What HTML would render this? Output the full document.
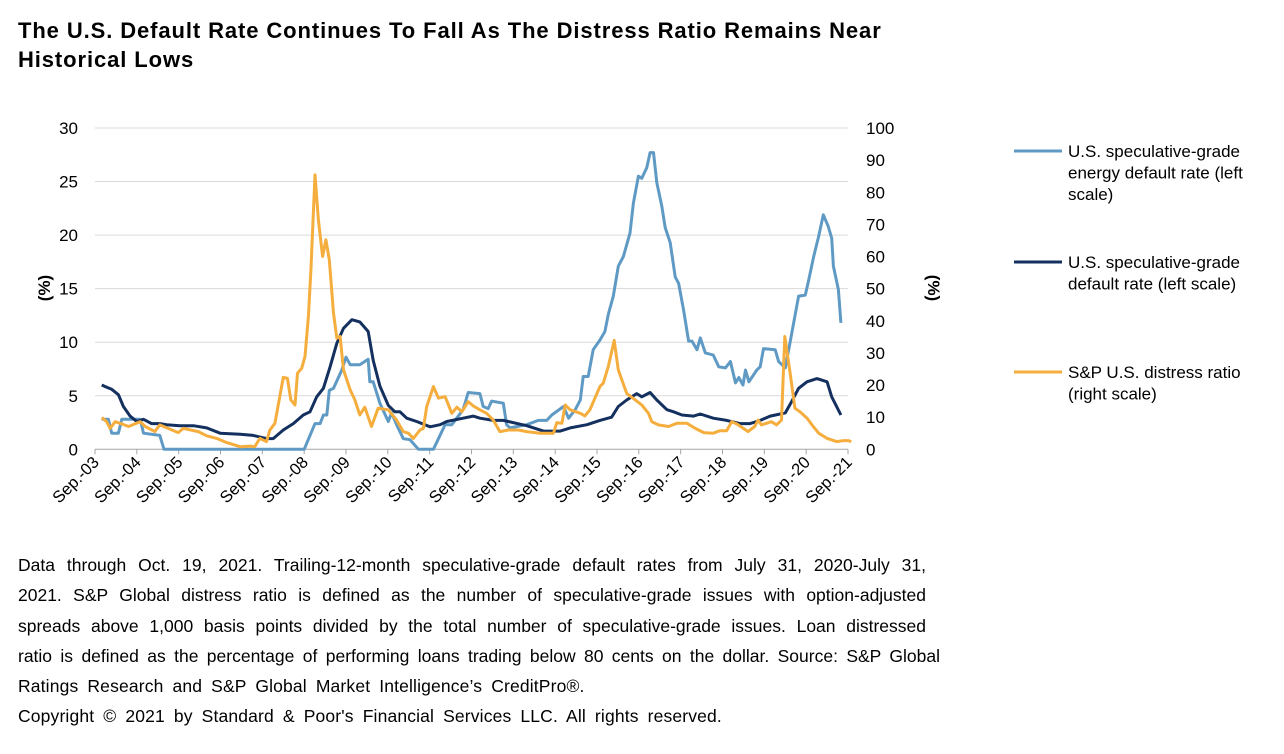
<!DOCTYPE html>
<html><head><meta charset="utf-8">
<style>
body{margin:0;background:#fff;width:1284px;height:754px;overflow:hidden;font-family:"Liberation Sans",Arial,sans-serif;color:#000}
.title{position:absolute;left:18px;top:16px;font-size:22px;font-weight:bold;line-height:29px;width:900px;letter-spacing:0.9px}
.note{position:absolute;left:18px;top:550px;width:918px;font-size:17.5px;line-height:30.3px}
.j{text-align:justify;text-align-last:justify;white-space:nowrap}
.w{word-spacing:4px;letter-spacing:0.15px;white-space:nowrap}
svg{position:absolute;left:0;top:0}
text{font-family:"Liberation Sans",Arial,sans-serif}
</style></head><body>
<div class="title">The U.S. Default Rate Continues To Fall As The Distress Ratio Remains Near<br>Historical Lows</div>
<svg id="c" width="1284" height="754"></svg>
<div class="note">
<div class="j" style="width:908px">Data through Oct. 19, 2021. Trailing-12-month speculative-grade default rates from July 31, 2020-July 31,</div>
<div class="j" style="width:908px">2021. S&amp;P Global distress ratio is defined as the number of speculative-grade issues with option-adjusted</div>
<div class="j" style="width:908px">spreads above 1,000 basis points divided by the total number of speculative-grade issues. Loan distressed</div>
<div class="j" style="width:922px">ratio is defined as the percentage of performing loans trading below 80 cents on the dollar. Source: S&amp;P Global</div>
<div class="w">Ratings Research and S&amp;P Global Market Intelligence’s CreditPro®.</div>
<div class="w">Copyright © 2021 by Standard &amp; Poor's Financial Services LLC. All rights reserved.</div>
</div>
<script>
const xLabels=["Sep.-03","Sep.-04","Sep.-05","Sep.-06","Sep.-07","Sep.-08","Sep.-09","Sep.-10","Sep.-11","Sep.-12","Sep.-13","Sep.-14","Sep.-15","Sep.-16","Sep.-17","Sep.-18","Sep.-19","Sep.-20","Sep.-21"];
const leftTicks=[0,5,10,15,20,25,30];
const rightTicks=[0,10,20,30,40,50,60,70,80,90,100];
// time in years since Sep-03
const energyT=[.16,.32,.40,.56,.64,1.08,1.16,1.55,1.65,5.0,5.26,5.38,5.46,5.54,5.6,5.7,5.9,6.0,6.1,6.33,6.53,6.57,6.65,6.81,7.01,7.09,7.21,7.37,7.53,7.73,8.09,8.37,8.53,8.8,8.92,9.2,9.28,9.4,9.48,9.76,9.84,9.92,10.32,10.6,10.8,10.92,11.2,11.32,11.48,11.6,11.67,11.79,11.91,12.07,12.19,12.27,12.39,12.51,12.63,12.79,12.87,12.99,13.07,13.19,13.27,13.35,13.43,13.55,13.63,13.75,13.87,13.95,14.07,14.19,14.27,14.39,14.47,14.59,14.78,14.91,15.07,15.19,15.31,15.39,15.49,15.55,15.63,15.82,15.9,15.98,16.26,16.34,16.5,16.62,16.82,16.98,17.06,17.18,17.3,17.41,17.53,17.61,17.65,17.77,17.83];
const energyV=[2.8,2.8,1.5,1.5,2.8,2.8,1.5,1.3,0,0,2.4,2.4,3.2,3.2,5.5,5.7,7.4,8.6,7.9,7.9,8.4,6.3,6.3,4.3,2.6,3.4,2.3,1.0,0.9,0,0,2.3,2.3,3.7,5.3,5.2,4.0,3.8,4.5,4.3,2.3,2.0,2.3,2.7,2.7,3.2,4.0,2.9,3.7,4.6,6.8,6.8,9.3,10.2,11.0,12.6,14.3,17.1,18.0,20.2,23.0,25.5,25.3,26.3,27.7,27.7,24.9,22.7,20.7,19.3,16.1,15.5,13.0,10.1,10.1,9.3,10.4,9.0,8.8,7.7,7.6,8.2,6.2,6.7,6.0,7.4,6.3,7.4,7.7,9.4,9.3,8.2,7.6,10.1,14.3,14.4,15.8,18.0,19.9,21.9,20.8,19.7,17.1,14.9,11.8];
const defaultT=[.16,.28,.4,.56,.68,.84,1.0,1.16,1.35,1.55,1.71,2.03,2.35,2.67,2.99,3.47,3.78,4.1,4.26,4.5,4.74,4.98,5.14,5.3,5.46,5.62,5.78,5.94,6.14,6.33,6.53,6.65,6.81,7.01,7.17,7.29,7.45,7.69,8.01,8.25,8.41,8.8,9.04,9.2,9.52,9.76,10.32,10.72,11.12,11.36,11.76,12.07,12.35,12.51,12.71,12.95,13.07,13.27,13.43,13.67,13.83,14.03,14.31,14.47,14.78,15.1,15.42,15.66,15.9,16.14,16.5,16.66,16.82,17.02,17.26,17.5,17.61,17.83];
const defaultV=[6.0,5.8,5.6,5.1,4.0,3.1,2.6,2.8,2.4,2.4,2.3,2.2,2.2,2.0,1.5,1.4,1.3,1.0,1.0,1.8,2.4,3.2,3.5,4.9,5.7,7.7,9.9,11.3,12.1,11.9,11.0,8.3,5.9,4.1,3.5,3.5,2.9,2.6,2.1,2.3,2.6,2.9,3.1,2.9,2.7,2.7,2.2,1.7,1.7,2.0,2.3,2.7,3.0,4.0,4.6,5.2,4.9,5.3,4.6,3.7,3.5,3.2,3.1,3.3,2.9,2.7,2.4,2.4,2.7,3.1,3.4,4.5,5.7,6.3,6.6,6.3,4.9,3.2];
const distressT=[.16,.28,.36,.48,.64,.8,1.08,1.2,1.43,1.55,1.75,1.99,2.11,2.47,2.67,2.91,3.15,3.47,3.71,3.82,3.94,4.1,4.18,4.3,4.5,4.6,4.68,4.78,4.84,4.94,5.02,5.1,5.16,5.26,5.34,5.44,5.52,5.6,5.7,5.78,5.86,5.94,6.1,6.21,6.33,6.45,6.61,6.77,7.01,7.21,7.37,7.49,7.61,7.77,7.85,7.93,8.09,8.21,8.37,8.53,8.65,8.77,8.92,9.04,9.2,9.36,9.52,9.68,9.88,10.12,10.32,10.64,10.96,11.04,11.16,11.24,11.36,11.6,11.71,11.83,11.95,12.07,12.15,12.27,12.41,12.51,12.71,12.91,13.07,13.23,13.31,13.47,13.71,13.91,14.15,14.35,14.55,14.78,14.94,15.1,15.22,15.34,15.5,15.61,15.77,15.85,15.93,16.17,16.29,16.41,16.49,16.61,16.73,16.85,17.02,17.14,17.3,17.5,17.73,17.89,18.0,18.08];
const distressV=[9.9,8.6,6.5,8.6,7.9,7.1,8.6,7.1,5.5,7.6,6.5,5.2,6.5,5.5,4.2,3.4,2.1,0.8,1.0,0.8,3.4,2.4,6.0,8.1,22.4,22.1,15.4,13.8,23.7,25.2,28.9,41.3,55.8,85.4,71.4,60,65.2,59,42.4,34.6,35.1,24.7,18.5,15.4,10.7,13.1,7.1,12.8,12.3,9.1,5.5,5.0,3.4,6.0,6.5,13.3,19.5,15.9,16.4,11.2,13.1,11.7,14.8,13.5,12.3,11.2,9.1,5.5,6.0,6.0,5.5,5.0,5.0,8.3,8.1,13.8,12.3,11.2,10.4,12.3,15.9,19.5,20.6,25.8,33.9,24.7,17.4,15.4,13.8,11.2,8.6,7.6,7.1,8.1,8.1,6.5,5.2,5.0,5.8,5.8,8.6,7.9,6.5,5.5,7.1,9.1,7.6,8.6,7.6,9.1,35.1,24.2,12.8,11.7,9.7,7.6,5.0,3.4,2.4,2.7,2.7,2.4];

const NS="http://www.w3.org/2000/svg";
const svg=document.getElementById('c');
const X0=95,X1=848,Y0=449.3,Y1=128;
const x=t=>X0+(X1-X0)*t/18;
const yL=v=>Y0-(Y0-Y1)*v/30;
const yR=v=>Y0-(Y0-Y1)*v/100;
function mk(tag,attrs,txt){const e=document.createElementNS(NS,tag);for(const k in attrs)e.setAttribute(k,attrs[k]);if(txt!=null)e.textContent=txt;svg.appendChild(e);return e;}
leftTicks.forEach(v=>{
  if(v>0){const g=mk('line',{x1:X0,x2:X1,y1:yL(v),y2:yL(v),stroke:'#d9d9d9','stroke-width':1});
  
  }
  const t=mk('text',{x:78,y:yL(v)+6,'text-anchor':'end','font-size':17},v);
  
  
});
rightTicks.forEach(v=>{
  const t=mk('text',{x:866,y:yR(v)+6,'font-size':17},v);
  
  
});
const ax=mk('line',{x1:X0,x2:X1,y1:Y0,y2:Y0,stroke:'#a6a6a6','stroke-width':1});


xLabels.forEach((l,i)=>{
  const tk=mk('line',{x1:x(i),x2:x(i),y1:Y0,y2:Y0+5,stroke:'#a6a6a6'});
  
  
  const t=mk('text',{x:x(i)+5,y:Y0+14,'text-anchor':'end','font-size':16.5,transform:`rotate(-45 ${x(i)+5} ${Y0+14})`},l);
  
  
});
function series(T,V,yf,color,name){
  const d=T.map((t,i)=>(i?'L':'M')+x(t).toFixed(1)+' '+yf(V[i]).toFixed(1)).join(' ');
  const p=mk('path',{d,fill:'none',stroke:color,'stroke-width':3,'stroke-linejoin':'round'});
  
  
}
series(energyT,energyV,yL,'#5f9ac5','energy-default-line');
series(defaultT,defaultV,yL,'#14305f','default-rate-line');
series(distressT,distressV,yR,'#f5ae3d','distress-ratio-line');
const la=mk('text',{x:0,y:0,'font-size':17,'font-weight':'bold',transform:'translate(50 288) rotate(-90)','text-anchor':'middle'},'(%)');


const ra=mk('text',{x:0,y:0,'font-size':17,'font-weight':'bold',transform:'translate(928 288) rotate(90)','text-anchor':'middle'},'(%)');


const leg=[['#5f9ac5',151,['U.S. speculative-grade','energy default rate (left','scale)'],'legend-energy'],
['#14305f',262,['U.S. speculative-grade','default rate (left scale)'],'legend-default-rate'],
['#f5ae3d',372,['S&P U.S. distress ratio','(right scale)'],'legend-distress-ratio']];
leg.forEach(([c,yy,lines,n])=>{
  const l=mk('line',{x1:1014,x2:1062,y1:yy,y2:yy,stroke:c,'stroke-width':3});
  
  
  lines.forEach((s,i)=>{
    const t=mk('text',{x:1068,y:yy+6+i*21.5,'font-size':17},s);
    
    
  });
});
</script>
</body></html>
